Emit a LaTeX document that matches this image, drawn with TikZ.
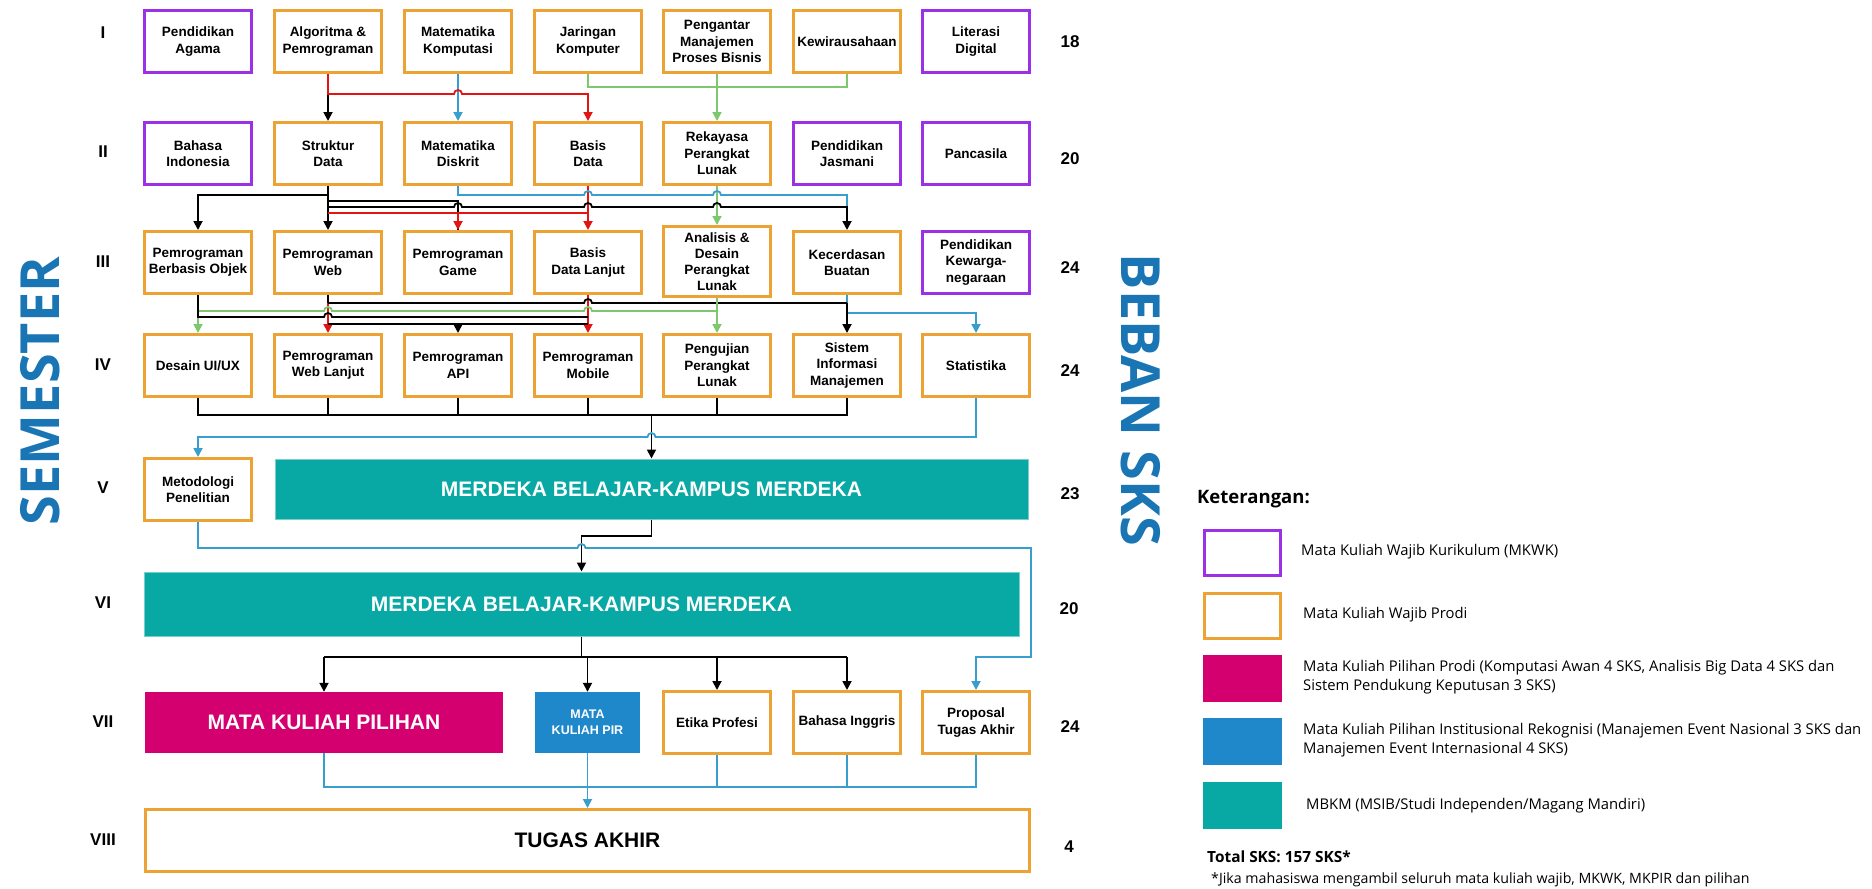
\documentclass[tikz,border=0pt]{standalone}
\usepackage{fontspec}
\setmainfont{Liberation Sans}
\newfontfamily\osans{Open Sans}
\usetikzlibrary{arrows.meta}
\definecolor{cpurple}{RGB}{155,48,230}
\definecolor{corange}{RGB}{236,163,52}
\definecolor{cteal}{RGB}{8,168,164}
\definecolor{cmag}{RGB}{212,0,112}
\definecolor{cblue}{RGB}{30,136,202}
\definecolor{ctitle}{RGB}{26,117,180}
\definecolor{lred}{RGB}{226,20,20}
\definecolor{lblue}{RGB}{55,158,205}
\definecolor{lgreen}{RGB}{125,200,110}
\tikzset{
  base/.style={minimum width=107pt, minimum height=62pt, align=center, inner sep=1pt,
    line width=3pt, fill=white, font=\fontsize{13.5}{16.5}\selectfont\bfseries},
  mkwk/.style={base, draw=cpurple},
  prodi/.style={base, draw=corange},
  mbkm/.style={fill=cteal, draw=cteal!55!white, line width=1pt, text=white, inner sep=0pt,
    font=\fontsize{21}{24}\selectfont\bfseries},
  rom/.style={font=\fontsize{17}{20}\selectfont\bfseries, inner sep=0pt},
  num/.style={font=\fontsize{17}{20}\selectfont\bfseries, inner sep=0pt},
  conn/.style={line width=1.8pt},
  kl/.style={conn, black},
  rl/.style={conn, lred},
  bl/.style={conn, lblue},
  gl/.style={conn, lgreen},
  arr/.style={-{Triangle[length=9pt,width=9pt]}},
  lgbox/.style={minimum width=76pt, minimum height=45pt, line width=3pt, inner sep=0pt},
  lgfill/.style={minimum width=79pt, minimum height=47pt, inner sep=0pt, draw=none},
  lgtext/.style={anchor=west, inner sep=0pt, align=left, font=\osans\fontsize{14.8}{19}\selectfont},
  title/.style={font=\osans\bfseries\fontsize{54}{60}\selectfont, text=ctitle, inner sep=0pt}
}
\begin{document}
\begin{tikzpicture}[x=1pt,y=-1pt]
\useasboundingbox[fill=white] (0,0) rectangle (1872,889);

% titles
\node[title, rotate=90] (sem) at (40,391) {SEMESTER};
\node[title, rotate=-90] (beban) at (1141,400) {BEBAN SKS};

% roman numerals
\node[rom] (r1) at (103,33) {I};
\node[rom] (r2) at (103,152) {II};
\node[rom] (r3) at (103,262) {III};
\node[rom] (r4) at (103,365) {IV};
\node[rom] (r5) at (103,488) {V};
\node[rom] (r6) at (103,603) {VI};
\node[rom] (r7) at (103,722) {VII};
\node[rom] (r8) at (103,840) {VIII};

% SKS numbers
\node[num] (n1) at (1070,42) {18};
\node[num] (n2) at (1070,159) {20};
\node[num] (n3) at (1070,268) {24};
\node[num] (n4) at (1070,371) {24};
\node[num] (n5) at (1070,494) {23};
\node[num] (n6) at (1069,609) {20};
\node[num] (n7) at (1070,727) {24};
\node[num] (n8) at (1069,847) {4};

% Row I
\node[mkwk] (p1) at (198,41.5) {Pendidikan\\Agama};
\node[prodi] (p2) at (328,41.5) {Algoritma \&\\Pemrograman};
\node[prodi] (p3) at (458,41.5) {Matematika\\Komputasi};
\node[prodi] (p4) at (588,41.5) {Jaringan\\Komputer};
\node[prodi] (p5) at (717,41.5) {Pengantar\\Manajemen\\Proses Bisnis};
\node[prodi] (p6) at (847,41.5) {Kewirausahaan};
\node[mkwk] (p7) at (976,41.5) {Literasi\\Digital};

% Row II
\node[mkwk] (bi) at (198,153.5) {Bahasa\\Indonesia};
\node[prodi] (sd) at (328,153.5) {Struktur\\Data};
\node[prodi] (md) at (458,153.5) {Matematika\\Diskrit};
\node[prodi] (bd) at (588,153.5) {Basis\\Data};
\node[prodi] (rpl) at (717,153.5) {Rekayasa\\Perangkat\\Lunak};
\node[mkwk] (pj) at (847,153.5) {Pendidikan\\Jasmani};
\node[mkwk] (pc) at (976,153.5) {Pancasila};

% Row III
\node[prodi] (pbo) at (198,262.5) {Pemrograman\\Berbasis Objek};
\node[prodi] (pw) at (328,262.5) {Pemrograman\\Web};
\node[prodi] (pg) at (458,262.5) {Pemrograman\\Game};
\node[prodi] (bdl) at (588,262.5) {Basis\\Data Lanjut};
\node[prodi, minimum height=70pt, font=\fontsize{13.5}{15.8}\selectfont\bfseries] (adpl) at (717,261.5) {Analisis \&\\Desain\\Perangkat\\Lunak};
\node[prodi] (kb) at (847,262.5) {Kecerdasan\\Buatan};
\node[mkwk] (pk) at (976,262.5) {Pendidikan\\Kewarga-\\negaraan};

% Row IV
\node[prodi] (ux) at (198,365.5) {Desain UI/UX};
\node[prodi] (pwl) at (328,365.5) {Pemrograman\\Web Lanjut};
\node[prodi] (api) at (458,365.5) {Pemrograman\\API};
\node[prodi] (mob) at (588,365.5) {Pemrograman\\Mobile};
\node[prodi] (upl) at (717,365.5) {Pengujian\\Perangkat\\Lunak};
\node[prodi] (sim) at (847,365.5) {Sistem\\Informasi\\Manajemen};
\node[prodi] (stat) at (976,365.5) {Statistika};

% Row V
\node[prodi] (mp) at (198,489.5) {Metodologi\\Penelitian};
\node[mbkm, minimum width=753pt, minimum height=60pt] (mb1) at (651.5,489) {MERDEKA BELAJAR-KAMPUS MERDEKA};

% Row VI
\node[mbkm, minimum width=875pt, minimum height=64pt] (mb2) at (581.5,604) {MERDEKA BELAJAR-KAMPUS MERDEKA};

% Row VII
\node[fill=cmag, draw=none, minimum width=358pt, minimum height=61pt, inner sep=0pt, text=white,
  font=\fontsize{21}{24}\selectfont\bfseries] (mkp) at (324,722.5) {MATA KULIAH PILIHAN};
\node[fill=cblue, draw=none, minimum width=105pt, minimum height=61pt, inner sep=0pt, text=white, align=center,
  font=\fontsize{12.5}{16.5}\selectfont\bfseries] (pir) at (587.5,722.5) {MATA\\KULIAH PIR};
\node[prodi] (etika) at (717,722.5) {Etika Profesi};
\node[prodi] (bing) at (847,722.5) {Bahasa Inggris};
\node[prodi] (pta) at (976,722.5) {Proposal\\Tugas Akhir};

% Row VIII
\node[prodi, minimum width=884pt, font=\fontsize{21}{24}\selectfont\bfseries] (ta) at (587.5,840.5) {TUGAS AKHIR};

% ---------- connectors I -> II
\draw[kl, arr] (p2.south) -- (sd.north);
\draw[bl, arr] (p3.south) -- (md.north);
\draw[rl, arr] (p2.south) |- (454,94) arc(180:0:4pt) -- (bd.north |- 0,94) -- (bd.north);
\draw[gl] (p4.south) |- (p6.south |- 0,87) -- (p6.south);
\draw[gl, arr] (p5.south) -- (rpl.north);

% ---------- connectors II -> III
\draw[kl, arr] (sd.south) |- (pbo.north |- 0,195) -- (pbo.north);
\draw[kl, arr] (sd.south) -- (pw.north);
\draw[rl, arr] (bd.south) -- (bdl.north);
\draw[gl, arr] (rpl.south) -- (adpl.north);
\draw[bl] (md.south) |- (584,195) arc(180:0:4pt) -- (713,195) arc(180:0:4pt) -- (kb.north |- 0,195) -- (kb.north |- 0,207);
\draw[kl] (sd.south |- 0,201) -- (pg.north |- 0,201) -- (pg.north);
\draw[kl, arr] (sd.south |- 0,207) -- (454,207) arc(180:0:4pt) -- (584,207) arc(180:0:4pt) -- (713,207) arc(180:0:4pt) -- (kb.north |- 0,207) -- (kb.north);
\draw[rl] (bd.south |- 0,213) -- (sd.south |- 0,213);
\draw[rl, arr] (pg.north |- 0,213) -- (pg.north);

% ---------- connectors III -> IV
\draw[bl, arr] (kb.south) |- (stat.north |- 0,313) -- (stat.north);
\draw[kl] (pw.south) -- (pw.south |- 0,303);
\draw[rl, arr] (pw.south |- 0,303) -- (pwl.north);
\draw[rl, arr] (bdl.south) -- (mob.north);
\draw[kl] (pw.south |- 0,303) -- (584,303) arc(180:0:4pt) -- (kb.south |- 0,303);
\draw[kl, arr] (kb.south |- 0,303) -- (sim.north);
\draw[gl, arr] (adpl.south) -- (upl.north);
\draw[gl, arr] (adpl.south |- 0,311) -- (592,311) arc(0:180:4pt) -- (332,311) arc(0:180:4pt) -- (ux.north |- 0,311) -- (ux.north);
\draw[kl] (pbo.south) |- (324,317) arc(180:0:4pt) -- (mob.north |- 0,317);
\draw[kl] (pwl.north |- 0,324) -- (mob.north |- 0,324);
\draw[kl, arr] (api.north |- 0,324) -- (api.north);

% ---------- connectors IV -> V
\draw[kl] (ux.south) |- (sim.south |- 0,415) -- (sim.south);
\draw[kl] (pwl.south) -- (pwl.south |- 0,415);
\draw[kl] (api.south) -- (api.south |- 0,415);
\draw[kl] (mob.south) -- (mob.south |- 0,415);
\draw[kl] (upl.south) -- (upl.south |- 0,415);
\draw[kl, arr] (mb1.north |- 0,415) -- (mb1.north);
\draw[bl, arr] (stat.south) |- (655.5,437) arc(0:180:4pt) -- (mp.north |- 0,437) -- (mp.north);

% ---------- connectors V -> VI
\draw[kl, arr] (mb1.south) |- (mb2.north |- 0,536) -- (mb2.north);
\draw[bl, arr] (mp.south) |- (577.5,548) arc(180:0:4pt) -- (1031,548) |- (pta.north |- 0,657) -- (pta.north);

% ---------- connectors VI -> VII
\draw[kl] (mb2.south) -- (mb2.south |- 0,657);
\draw[kl] (mkp.north |- 0,657) -- (bing.north |- 0,657);
\draw[kl, arr] (mkp.north |- 0,657) -- (mkp.north);
\draw[kl, arr] (pir.north |- 0,657) -- (pir.north);
\draw[kl, arr] (etika.north |- 0,657) -- (etika.north);
\draw[kl, arr] (bing.north |- 0,657) -- (bing.north);

% ---------- connectors VII -> VIII
\draw[bl] (mkp.south) |- (pta.south |- 0,787) -- (pta.south);
\draw[bl] (etika.south) -- (etika.south |- 0,787);
\draw[bl] (bing.south) -- (bing.south |- 0,787);
\draw[bl, arr] (pir.south) -- (ta.north);

% ---------- legend
\node[anchor=west, inner sep=0pt, font=\osans\bfseries\fontsize{18.5}{22}\selectfont] (ket) at (1197,499) {Keterangan:};
\node[lgbox, draw=cpurple] (l1) at (1242.5,553) {};
\node[lgbox, draw=corange] (l2) at (1242.5,615.5) {};
\node[lgfill, fill=cmag] (l3) at (1242.5,678.5) {};
\node[lgfill, fill=cblue] (l4) at (1242.5,741) {};
\node[lgfill, fill=cteal] (l5) at (1242.5,805) {};
\node[lgtext] (t1) at (1301,552) {Mata Kuliah Wajib Kurikulum (MKWK)};
\node[lgtext] (t2) at (1303,615) {Mata Kuliah Wajib Prodi};
\node[lgtext] (t3) at (1303,677.5) {Mata Kuliah Pilihan Prodi (Komputasi Awan 4 SKS, Analisis Big Data 4 SKS dan\\Sistem Pendukung Keputusan 3 SKS)};
\node[lgtext] (t4) at (1303,740.5) {Mata Kuliah Pilihan Institusional Rekognisi (Manajemen Event Nasional 3 SKS dan\\Manajemen Event Internasional 4 SKS)};
\node[lgtext] (t5) at (1306,806) {MBKM (MSIB/Studi Independen/Magang Mandiri)};
\node[anchor=west, inner sep=0pt, font=\osans\bfseries\fontsize{15.4}{18}\selectfont] (tot) at (1207,857) {Total SKS: 157 SKS*};
\node[anchor=west, inner sep=0pt, font=\osans\fontsize{14.2}{17}\selectfont] (foot) at (1211,880) {*Jika mahasiswa mengambil seluruh mata kuliah wajib, MKWK, MKPIR dan pilihan};
\end{tikzpicture}
\end{document}
